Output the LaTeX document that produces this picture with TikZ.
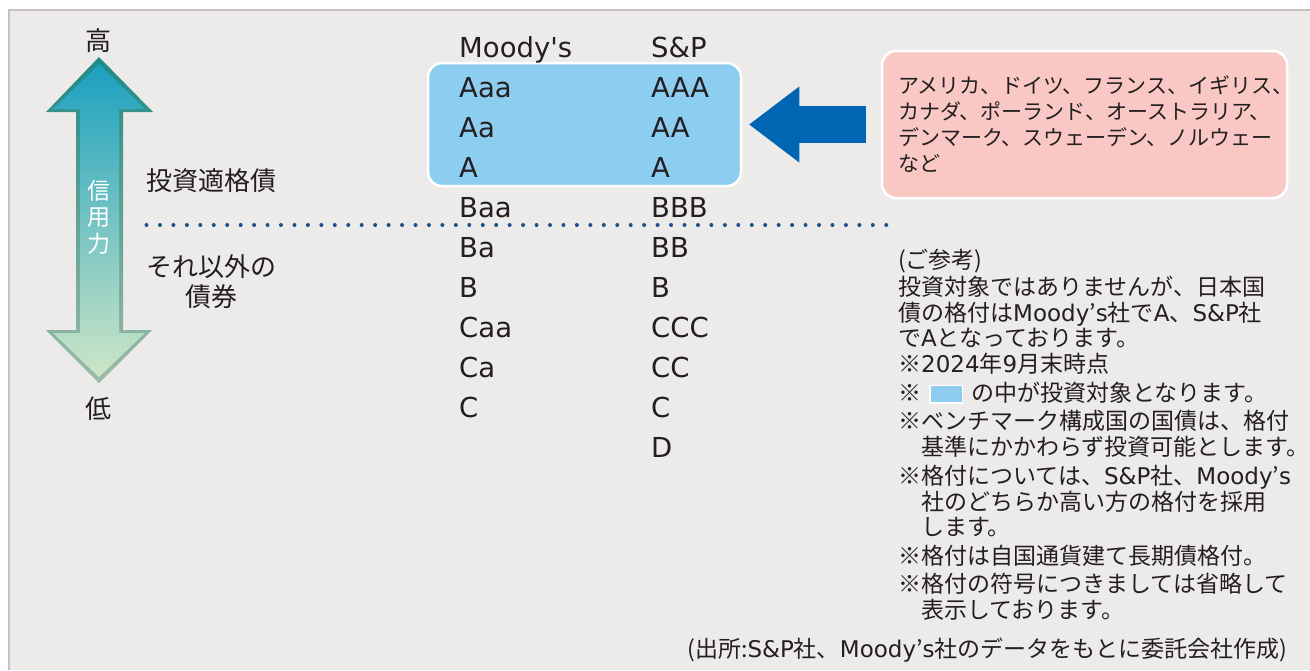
\documentclass[tikz,border=0pt]{standalone}
\usepackage{fontspec}
\setmainfont{Noto Sans CJK JP}[Ligatures=TeXOff]
\newfontfamily\latinfont{DejaVu Sans}[Ligatures=TeXOff]
\usepackage{tikz}
\usetikzlibrary{matrix}
\usetikzlibrary{arrows.meta}
\usetikzlibrary{positioning}

\definecolor{panelgray}{HTML}{EDEBE9}
\definecolor{framegray}{HTML}{C9C1BF}
\definecolor{gradeblue}{HTML}{8DCDF0}
\definecolor{countrypink}{HTML}{F9C8C4}
\definecolor{pointerblue}{HTML}{0066B3}
\definecolor{dotblue}{HTML}{1D4F8C}
\definecolor{inktext}{HTML}{231F20}
\definecolor{credtop}{HTML}{1BA0BF}
\definecolor{credmid}{HTML}{7DBFC6}
\definecolor{credbot}{HTML}{CDE6C6}
\definecolor{credtopdark}{HTML}{1F8A86}
\definecolor{credbotdark}{HTML}{9DBBA8}

\newcommand{\jpbig}{\fontsize{26}{30}\selectfont}
\newcommand{\jpnote}{\fontsize{23}{25.5}\selectfont}
\newcommand{\jpbox}{\fontsize{21}{26}\selectfont}
\newcommand{\gradefont}{\latinfont\fontsize{27.5}{30}\selectfont}
\newcommand{\lat}[1]{{\latinfont #1}}
\newcommand{\sampleswatch}{{\setlength{\fboxsep}{0pt}\setlength{\fboxrule}{1.5pt}\raisebox{-1pt}{\fcolorbox{white}{gradeblue}{\rule{0pt}{16pt}\rule{31pt}{0pt}}}}}

\tikzset{
  lbl/.style={inner sep=0pt, text=inktext},
  roundbox/.style={draw=white, line width=2.5pt, rounded corners=14pt, inner sep=0pt},
}

\begin{document}
\begin{tikzpicture}[x=1pt,y=-1pt]
\useasboundingbox (0,0) rectangle (1310,670);
\fill[panelgray] (9,10) rectangle (1310,670);
\draw[framegray, line width=2pt] (9,670) -- (9,10) -- (1310,10);

\shade[top color=credtopdark, bottom color=credbotdark] (99,57) -- (153,112) -- (123,112) -- (123,330) -- (152,330) -- (99,383) -- (46,330) -- (76,330) -- (76,112) -- (46,112) -- cycle;
\shade[top color=credtop, middle color=credmid, bottom color=credbot] (99,64) -- (145,109) -- (119,109) -- (119,333) -- (145,333) -- (99,377) -- (53,333) -- (80,333) -- (80,109) -- (53,109) -- cycle;
\node (credit) [lbl, text=white, align=center, anchor=north, font=\fontsize{23}{26.5}\selectfont] at (99,180) {信\\用\\力};
\node (high) [lbl, anchor=base, font=\jpbig] at (98,50) {高};
\node (low) [lbl, anchor=base, font=\jpbig] at (98,418) {低};

\node (grade) [lbl, anchor=base, font=\jpbig] at (211,190) {投資適格債};
\node (other) [lbl, anchor=north, align=center, font=\jpbig] at (211,254) {それ以外の\\債券};
\draw[dotblue, line width=4pt, line cap=round, dash pattern=on 0pt off 13.45pt] (146.5,225) -- (890,225);

\node (invest) [roundbox, fill=gradeblue, minimum width=313pt, minimum height=123pt] at (584.5,124.5) {};
\matrix (grades) [matrix of nodes, nodes={anchor=base west, inner sep=0pt, font=\gradefont, text=inktext},
row sep={40pt,between origins},
column sep={192pt,between origins}, anchor=m0.base west] at (459,57)
{
|(m0)|{Moody's} & |(s0)|{S\&P} \\
|(m1)|{Aaa} & |(s1)|{AAA} \\
|(m2)|{Aa} & |(s2)|{AA} \\
|(m3)|{A} & |(s3)|{A} \\
|(m4)|{Baa} & |(s4)|{BBB} \\
|(m5)|{Ba} & |(s5)|{BB} \\
|(m6)|{B} & |(s6)|{B} \\
|(m7)|{Caa} & |(s7)|{CCC} \\
|(m8)|{Ca} & |(s8)|{CC} \\
|(m9)|{C} & |(s9)|{C} \\
{} & |(s10)|{D} \\
};

\node (countries) [roundbox, fill=countrypink, minimum width=405pt, minimum height=147pt, text width=373pt, align=left, font=\jpbox, text=inktext] at (1084.5,124.5) {アメリカ、ドイツ、フランス、イギリス、\\カナダ、ポーランド、オーストラリア、\\デンマーク、スウェーデン、ノルウェー\\など};
\draw[pointerblue, line width=37pt, -{Triangle[length=50pt,width=76pt,line width=0pt]}, shorten <=15pt, shorten >=7pt] (countries.west) -- (invest.east);

\node (notes) [lbl, anchor=north west, align=left, font=\jpnote] at (898,249) {(ご参考)\\[1.5pt]
投資対象ではありませんが、日本国\\
債の格付は\lat{Moody}’\lat{s}社で\lat{A}、\lat{S\&P}社\\
で\lat{A}となっております。\\[0.5pt]
※\lat{2024}年\lat{9}月末時点\\[3pt]
※\hspace{8pt}\sampleswatch\hspace{8pt}の中が投資対象となります。\\[3pt]
※ベンチマーク構成国の国債は、格付\\
\hspace*{1em}基準にかかわらず投資可能とします。\\[4pt]
※格付については、\lat{S\&P}社、\lat{Moody}’\lat{s}\\
\hspace*{1em}社のどちらか高い方の格付を採用\\
\hspace*{1em}します。\\[3pt]
※格付は自国通貨建て長期債格付。\\[3pt]
※格付の符号につきましては省略して\\
\hspace*{1em}表示しております。};
\node (source) [lbl, anchor=base east, font=\jpnote] at (1287,657) {(出所:\lat{S\&P}社、\lat{Moody}’\lat{s}社のデータをもとに委託会社作成)};
				\end{tikzpicture}
\end{document}
